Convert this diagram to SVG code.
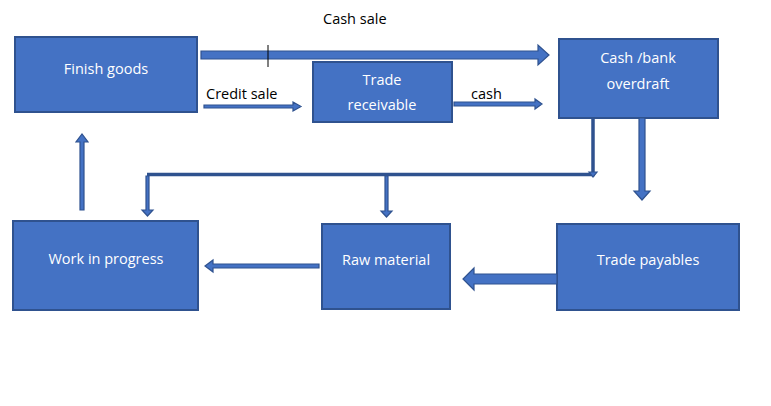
<svg xmlns="http://www.w3.org/2000/svg" width="771" height="406" viewBox="0 0 771 406">
<style>
.box{fill:#4472c4;stroke:#2f528f;stroke-width:2}
.t{font-family:"Open Sans","Liberation Sans",sans-serif;font-size:14.5px;fill:#fff;text-anchor:middle}
.l{font-family:"Open Sans","Liberation Sans",sans-serif;font-size:14.5px;fill:#000}
.a{fill:#4472c4;stroke:#2f528f;stroke-width:1.2}
.ln{stroke:#2f528f;stroke-width:3.5;fill:none}
</style>
<rect width="771" height="406" fill="#fff"/>
<g id="finish-goods"><rect class="box" x="15" y="37" width="182" height="75"/><text class="t" x="106" y="74">Finish goods</text></g>
<g id="trade-receivable"><rect class="box" x="313" y="62" width="139" height="60"/><text class="t" x="382" y="85">Trade</text><text class="t" x="382" y="110">receivable</text></g>
<g id="cash-bank"><rect class="box" x="559" y="39" width="159" height="79"/><text class="t" x="638" y="63">Cash /bank</text><text class="t" x="638" y="89">overdraft</text></g>
<g id="wip"><rect class="box" x="13" y="221" width="185" height="89"/><text class="t" x="106" y="264">Work in progress</text></g>
<g id="raw-material"><rect class="box" x="322" y="224" width="128" height="85"/><text class="t" x="386" y="265">Raw material</text></g>
<g id="trade-payables"><rect class="box" x="557" y="224" width="182" height="86"/><text class="t" x="648" y="265">Trade payables</text></g>
<g id="connectors">
<path class="a" d="M201,51 H538 V45 L549,55 L538,65 V59 H201 Z"/>
<line x1="268" y1="45" x2="268" y2="67" stroke="#000" stroke-width="1"/>
<path class="a" d="M204,105 H293 V102 L301,106.5 L293,111 V108 H204 Z"/>
<path class="a" d="M454,102 H535 V99 L542,104 L535,109 V106 H454 Z"/>
<polyline class="ln" points="593,118 593,174.5 147,174.5"/>
<path class="a" d="M589,172 L597,172 L593,177 Z"/>
<path class="a" d="M146,176 V210 H142 L147.5,216 L153,210 H149 V176 Z"/>
<path class="a" d="M385,176 V211 H381 L386.5,217 L392,211 H388 V176 Z"/>
<path class="a" d="M639,118 V191 H634 L642,200 L650,191 H645 V118 Z"/>
<path class="a" d="M319,264 H213 V260 L205,266 L213,272 V268 H319 Z"/>
<path class="a" d="M557,274 H474 V268 L463,279 L474,290 V284 H557 Z"/>
<path class="a" d="M80,210 V142 H76 L82,134 L88,142 H84 V210 Z"/>
</g>
<text class="l" x="323" y="24">Cash sale</text>
<text class="l" x="206" y="99">Credit sale</text>
<text class="l" x="471" y="99">cash</text>
</svg>
